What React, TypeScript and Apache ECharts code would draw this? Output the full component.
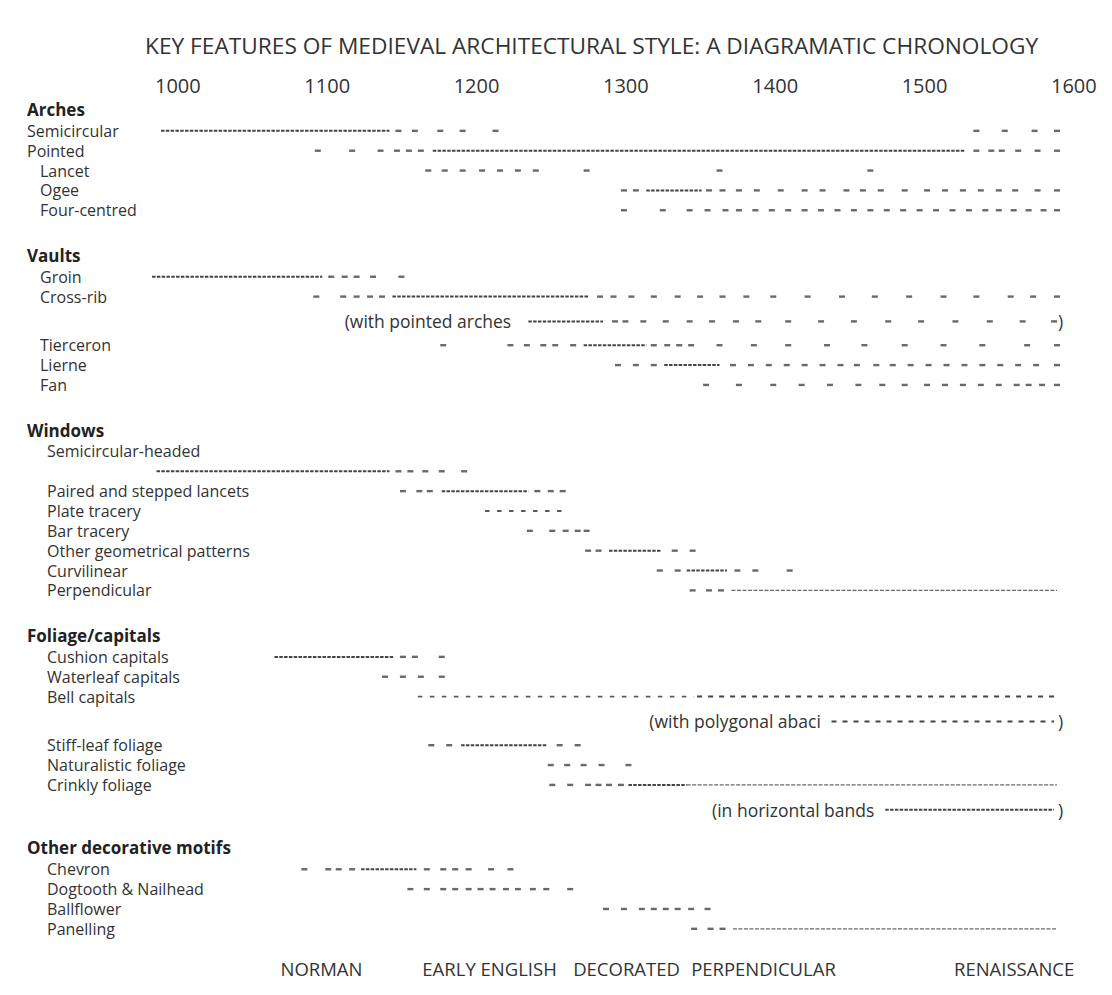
import React, { useEffect, useRef } from 'react';
import * as echarts from 'echarts';

const TITLE = 'KEY FEATURES OF MEDIEVAL ARCHITECTURAL STYLE: A DIAGRAMATIC CHRONOLOGY';
const YEAR_MIN = 1000;
const YEAR_MAX = 1600;
const YEAR_STEP = 100;

// Rows of the chart (id, label, type: h = heading, i = item, n = note, indent level)
const ROW_IDS = [
  'arches', 'semiArch', 'pointed', 'lancet', 'ogee', 'fourCentred',
  'vaults', 'groin', 'crossRib', 'crossRibNote', 'tierceron', 'lierne', 'fan',
  'windows', 'semiWinLabel', 'semiWin', 'paired', 'plate', 'bar', 'geom', 'curvi', 'perpWin',
  'foliage', 'cushion', 'waterleaf', 'bell', 'bellNote', 'stiff', 'natural', 'crinkly', 'crinklyNote',
  'motifs', 'chevron', 'dogtooth', 'ballflower', 'panelling',
];
const ROW_LABELS = [
  'Arches', 'Semicircular', 'Pointed', 'Lancet', 'Ogee', 'Four-centred',
  'Vaults', 'Groin', 'Cross-rib', '(with pointed arches', 'Tierceron', 'Lierne', 'Fan',
  'Windows', 'Semicircular-headed', '', 'Paired and stepped lancets', 'Plate tracery', 'Bar tracery',
  'Other geometrical patterns', 'Curvilinear', 'Perpendicular',
  'Foliage/capitals', 'Cushion capitals', 'Waterleaf capitals', 'Bell capitals', '(with polygonal abaci',
  'Stiff-leaf foliage', 'Naturalistic foliage', 'Crinkly foliage', '(in horizontal bands',
  'Other decorative motifs', 'Chevron', 'Dogtooth & Nailhead', 'Ballflower', 'Panelling',
];
const ROW_TYPES = [
  'h', 'i', 'i', 'i', 'i', 'i',
  'h', 'i', 'i', 'n', 'i', 'i', 'i',
  'h', 'i', 'i', 'i', 'i', 'i', 'i', 'i', 'i',
  'h', 'i', 'i', 'i', 'n', 'i', 'i', 'i', 'n',
  'h', 'i', 'i', 'i', 'i',
];
const ROW_INDENT = [
  0, 0, 0, 1, 1, 1,
  0, 1, 1, 0, 1, 1, 1,
  0, 2, 2, 2, 2, 2, 2, 2, 2,
  0, 2, 2, 2, 0, 2, 2, 2, 0,
  0, 2, 2, 2, 2,
];

// where the bracketed notes start (year)
const NOTE_IDS = ['crossRibNote', 'bellNote', 'crinklyNote'];
const NOTE_START = [1123, 1327, 1369];

// individual dashes (years)
const M_SEMI_ARCH = [1159, 1170, 1187, 1202, 1224, 1546, 1565, 1585, 1600];
const M_POINTED = [1105, 1128, 1147, 1158, 1166, 1174, 1546, 1556, 1563, 1574, 1587, 1600];
const M_LANCET = [1179, 1190, 1202, 1215, 1227, 1239, 1251, 1285, 1374, 1475];
const M_OGEE = [1310, 1318, 1367, 1376, 1387, 1399, 1415, 1431, 1443, 1459, 1470, 1482, 1498, 1513, 1525, 1537, 1549, 1561, 1572, 1587, 1600];
const M_FOUR = [1310, 1336, 1354, 1366, 1378, 1387, 1398, 1409, 1420, 1431, 1442, 1453, 1464, 1475, 1486, 1497, 1508, 1519, 1530, 1541, 1552, 1561, 1571, 1581, 1591, 1600];
const M_GROIN = [1114, 1123, 1131, 1142, 1161];
const M_CROSS = [1104, 1122, 1131, 1140, 1148, 1294, 1303, 1315, 1330, 1346, 1361, 1376, 1392, 1410, 1433, 1456, 1478, 1501, 1524, 1546, 1569, 1584, 1600];
const M_CROSS_NOTE = [1304, 1311, 1323, 1338, 1354, 1369, 1385, 1400, 1420, 1442, 1464, 1487, 1509, 1532, 1555, 1577, 1598];
const M_TIERCERON = [1189, 1234, 1245, 1256, 1264, 1276, 1330, 1339, 1347, 1355, 1374, 1397, 1420, 1446, 1471, 1498, 1524, 1550, 1580, 1600];
const M_LIERNE = [1306, 1318, 1330, 1383, 1395, 1407, 1419, 1431, 1443, 1455, 1466, 1479, 1490, 1502, 1514, 1526, 1538, 1550, 1562, 1574, 1586, 1600];
const M_FAN = [1365, 1387, 1410, 1429, 1448, 1467, 1483, 1498, 1513, 1525, 1537, 1549, 1561, 1573, 1581, 1590, 1600];
const M_SEMI_WIN = [1159, 1167, 1177, 1188, 1203];
const M_PAIRED = [1162, 1173, 1180, 1252, 1261, 1269];
const M_BAR = [1247, 1262, 1271, 1279, 1285];
const M_GEOM = [1286, 1293, 1344, 1356];
const M_CURVI = [1334, 1346, 1386, 1398, 1421];
const M_PERP_WIN = [1356, 1367, 1375];
const M_CUSHION = [1162, 1170, 1188];
const M_WATERLEAF = [1150, 1162, 1174, 1188];
const M_STIFF = [1181, 1193, 1267, 1279];
const M_NATURAL = [1261, 1272, 1283, 1295, 1313];
const M_CRINKLY = [1262, 1274, 1286, 1293, 1300, 1308];
const M_CHEVRON = [1096, 1112, 1119, 1128, 1178, 1189, 1197, 1206, 1221, 1234];
const M_DOGTOOTH = [1167, 1178, 1189, 1197, 1206, 1214, 1222, 1231, 1239, 1249, 1258, 1274];
const M_BALLFLOWER = [1298, 1310, 1322, 1330, 1338, 1346, 1355, 1366];
const M_PANELLING = [1357, 1368, 1376];

const MARK_TABLE: [string, number[]][] = [
  ['semiArch', M_SEMI_ARCH], ['pointed', M_POINTED], ['lancet', M_LANCET], ['ogee', M_OGEE],
  ['fourCentred', M_FOUR], ['groin', M_GROIN], ['crossRib', M_CROSS], ['crossRibNote', M_CROSS_NOTE],
  ['tierceron', M_TIERCERON], ['lierne', M_LIERNE], ['fan', M_FAN], ['semiWin', M_SEMI_WIN],
  ['paired', M_PAIRED], ['bar', M_BAR], ['geom', M_GEOM], ['curvi', M_CURVI], ['perpWin', M_PERP_WIN],
  ['cushion', M_CUSHION], ['waterleaf', M_WATERLEAF], ['stiff', M_STIFF], ['natural', M_NATURAL],
  ['crinkly', M_CRINKLY], ['chevron', M_CHEVRON], ['dogtooth', M_DOGTOOTH], ['ballflower', M_BALLFLOWER],
  ['panelling', M_PANELLING],
];

// continuous runs [row, from, to]
const DENSE_RUNS: [string, number, number][] = [
  ['semiArch', 1000, 1153], ['pointed', 1182, 1538], ['ogee', 1325, 1362], ['groin', 994, 1108],
  ['crossRib', 1155, 1286], ['crossRibNote', 1246, 1296], ['tierceron', 1283, 1325], ['lierne', 1337, 1374],
  ['semiWin', 997, 1153], ['paired', 1188, 1246], ['geom', 1300, 1335], ['curvi', 1352, 1379],
  ['cushion', 1076, 1156], ['stiff', 1201, 1258], ['crinkly', 1313, 1352], ['crinklyNote', 1485, 1598],
  ['chevron', 1134, 1171],
];
const FINE_RUNS: [string, number, number][] = [
  ['perpWin', 1382, 1600], ['crinkly', 1352, 1600], ['panelling', 1383, 1600],
];
const OPEN_DASH_RUNS: [string, number, number][] = [
  ['plate', 1217, 1270], ['bell', 1172, 1357],
];
const CLOSE_DASH_RUNS: [string, number, number][] = [
  ['bell', 1359, 1600], ['bellNote', 1449, 1598],
];

const PERIOD_NAMES = ['NORMAN', 'EARLY ENGLISH', 'DECORATED', 'PERPENDICULAR', 'RENAISSANCE'];
const PERIOD_START = [1080, 1175, 1276, 1355, 1531];

const FONT = "'Open Sans', Lato, sans-serif";
const INK = '#333';
const INDENT_X = [27, 40, 47];

const RUN_STYLES = [
  { stroke: '#454545', lineWidth: 2, lineDash: [3.5, 1.3] },
  { stroke: '#6a6a6a', lineWidth: 1.3, lineDash: [4, 1.5] },
  { stroke: '#5a5a5a', lineWidth: 1.8, lineDash: [4.5, 7.5] },
  { stroke: '#454545', lineWidth: 2, lineDash: [5, 6] },
];

export default function App() {
  const ref = useRef<HTMLDivElement>(null);
  useEffect(() => {
    document.body.style.margin = '0';
    const chart = echarts.init(ref.current!, null, { renderer: 'svg' });

    const pos: Record<string, number> = {};
    let p = 0;
    ROW_IDS.forEach((id, i) => {
      if (i > 0) {
        const t = ROW_TYPES[i];
        const prev = ROW_TYPES[i - 1];
        if (t === 'h') p += prev === 'n' ? 2.0 : 2.35;
        else if (t === 'n') p += 1.25;
        else if (prev === 'n') p += 1.2;
        else p += 1;
      }
      pos[id] = p;
    });
    const periodPos = p + 2.0;

    const labelData = ROW_IDS.map((id, i) => [YEAR_MIN, pos[id], i])
      .filter((d) => ROW_TYPES[d[2]] !== 'n' && ROW_LABELS[d[2]] !== '');
    const noteData = NOTE_IDS.map((id, k) => [NOTE_START[k], pos[id], ROW_IDS.indexOf(id)]);
    const closeData = NOTE_IDS.map((id) => [YEAR_MAX, pos[id]]);
    const runData: number[][] = [];
    [DENSE_RUNS, FINE_RUNS, OPEN_DASH_RUNS, CLOSE_DASH_RUNS].forEach((runs, kind) => {
      runs.forEach(([id, a, b]) => runData.push([a, b, pos[id], kind]));
    });
    const markData: number[][] = [];
    MARK_TABLE.forEach(([id, years]) => years.forEach((y) => markData.push([y, pos[id]])));
    const periodData = PERIOD_NAMES.map((_, k) => [PERIOD_START[k], periodPos, k]);

    // 19.85 px per row unit, Arches row at y = 111
    const yMax = 44;
    const unit = 19.85;
    const top = 111;
    const bottom = 995 - top - yMax * unit;

    chart.setOption({
      animation: false,
      backgroundColor: '#fff',
      title: {
        text: TITLE,
        left: 140,
        top: 29,
        textStyle: { fontFamily: FONT, fontSize: 22.7, fontWeight: 'normal', color: INK },
      },
      grid: { left: 161, right: 55, top, bottom },
      xAxis: {
        type: 'value',
        position: 'top',
        min: YEAR_MIN,
        max: YEAR_MAX,
        interval: YEAR_STEP,
        axisLine: { show: false },
        axisTick: { show: false },
        splitLine: { show: false },
        axisLabel: {
          fontFamily: FONT,
          fontSize: 20,
          color: INK,
          align: 'left',
          margin: 16,
          padding: [0, 0, 0, -6],
          formatter: (v: number) => String(v),
        },
      },
      yAxis: { type: 'value', inverse: true, min: 0, max: yMax, show: false },
      series: [
        {
          type: 'custom',
          name: 'runs',
          clip: false,
          data: runData,
          renderItem: (params: any, api: any) => {
            const a = api.coord([api.value(0), api.value(2)]);
            const b = api.coord([api.value(1), api.value(2)]);
            const s = RUN_STYLES[api.value(3)];
            return {
              type: 'line',
              shape: { x1: a[0], y1: a[1], x2: b[0], y2: b[1] },
              style: { stroke: s.stroke, lineWidth: s.lineWidth, lineDash: s.lineDash },
            };
          },
        },
        {
          type: 'scatter',
          name: 'dashes',
          clip: false,
          symbol: 'rect',
          symbolSize: [6, 2.4],
          itemStyle: { color: '#444' },
          data: markData,
        },
        {
          type: 'custom',
          name: 'labels',
          clip: false,
          data: labelData,
          renderItem: (params: any, api: any) => {
            const i = api.value(2);
            const y = api.coord([YEAR_MIN, api.value(1)])[1];
            const head = ROW_TYPES[i] === 'h';
            return {
              type: 'text',
              x: INDENT_X[ROW_INDENT[i]],
              y: head ? y - 1.5 : y,
              style: {
                text: ROW_LABELS[i],
                fontFamily: FONT,
                fontSize: head ? 17 : 16,
                lineHeight: 17,
                fontWeight: head ? 'bold' : 'normal',
                fill: head ? '#222' : INK,
                align: 'left',
                verticalAlign: 'middle',
              },
            };
          },
        },
        {
          type: 'custom',
          name: 'notes',
          clip: false,
          data: noteData,
          renderItem: (params: any, api: any) => {
            const c = api.coord([api.value(0), api.value(1)]);
            return {
              type: 'text',
              x: c[0],
              y: c[1],
              style: {
                text: ROW_LABELS[api.value(2)],
                fontFamily: FONT,
                fontSize: 17.5,
                lineHeight: 18,
                fill: INK,
                align: 'left',
                verticalAlign: 'middle',
              },
            };
          },
        },
        {
          type: 'custom',
          name: 'closing',
          clip: false,
          data: closeData,
          renderItem: (params: any, api: any) => {
            const c = api.coord([api.value(0), api.value(1)]);
            return {
              type: 'text',
              x: c[0] + 1,
              y: c[1],
              style: { text: ')', fontFamily: FONT, fontSize: 17.5, lineHeight: 18, fill: INK, align: 'left', verticalAlign: 'middle' },
            };
          },
        },
        {
          type: 'custom',
          name: 'periods',
          clip: false,
          data: periodData,
          renderItem: (params: any, api: any) => {
            const c = api.coord([api.value(0), api.value(1)]);
            return {
              type: 'text',
              x: c[0],
              y: c[1],
              style: {
                text: PERIOD_NAMES[api.value(2)],
                fontFamily: FONT,
                fontSize: 18.5,
                fill: INK,
                align: 'left',
                verticalAlign: 'middle',
              },
            };
          },
        },
      ],
    });
    return () => chart.dispose();
  }, []);
  return <div ref={ref} style={{ width: 1112, height: 995 }} />;
}
